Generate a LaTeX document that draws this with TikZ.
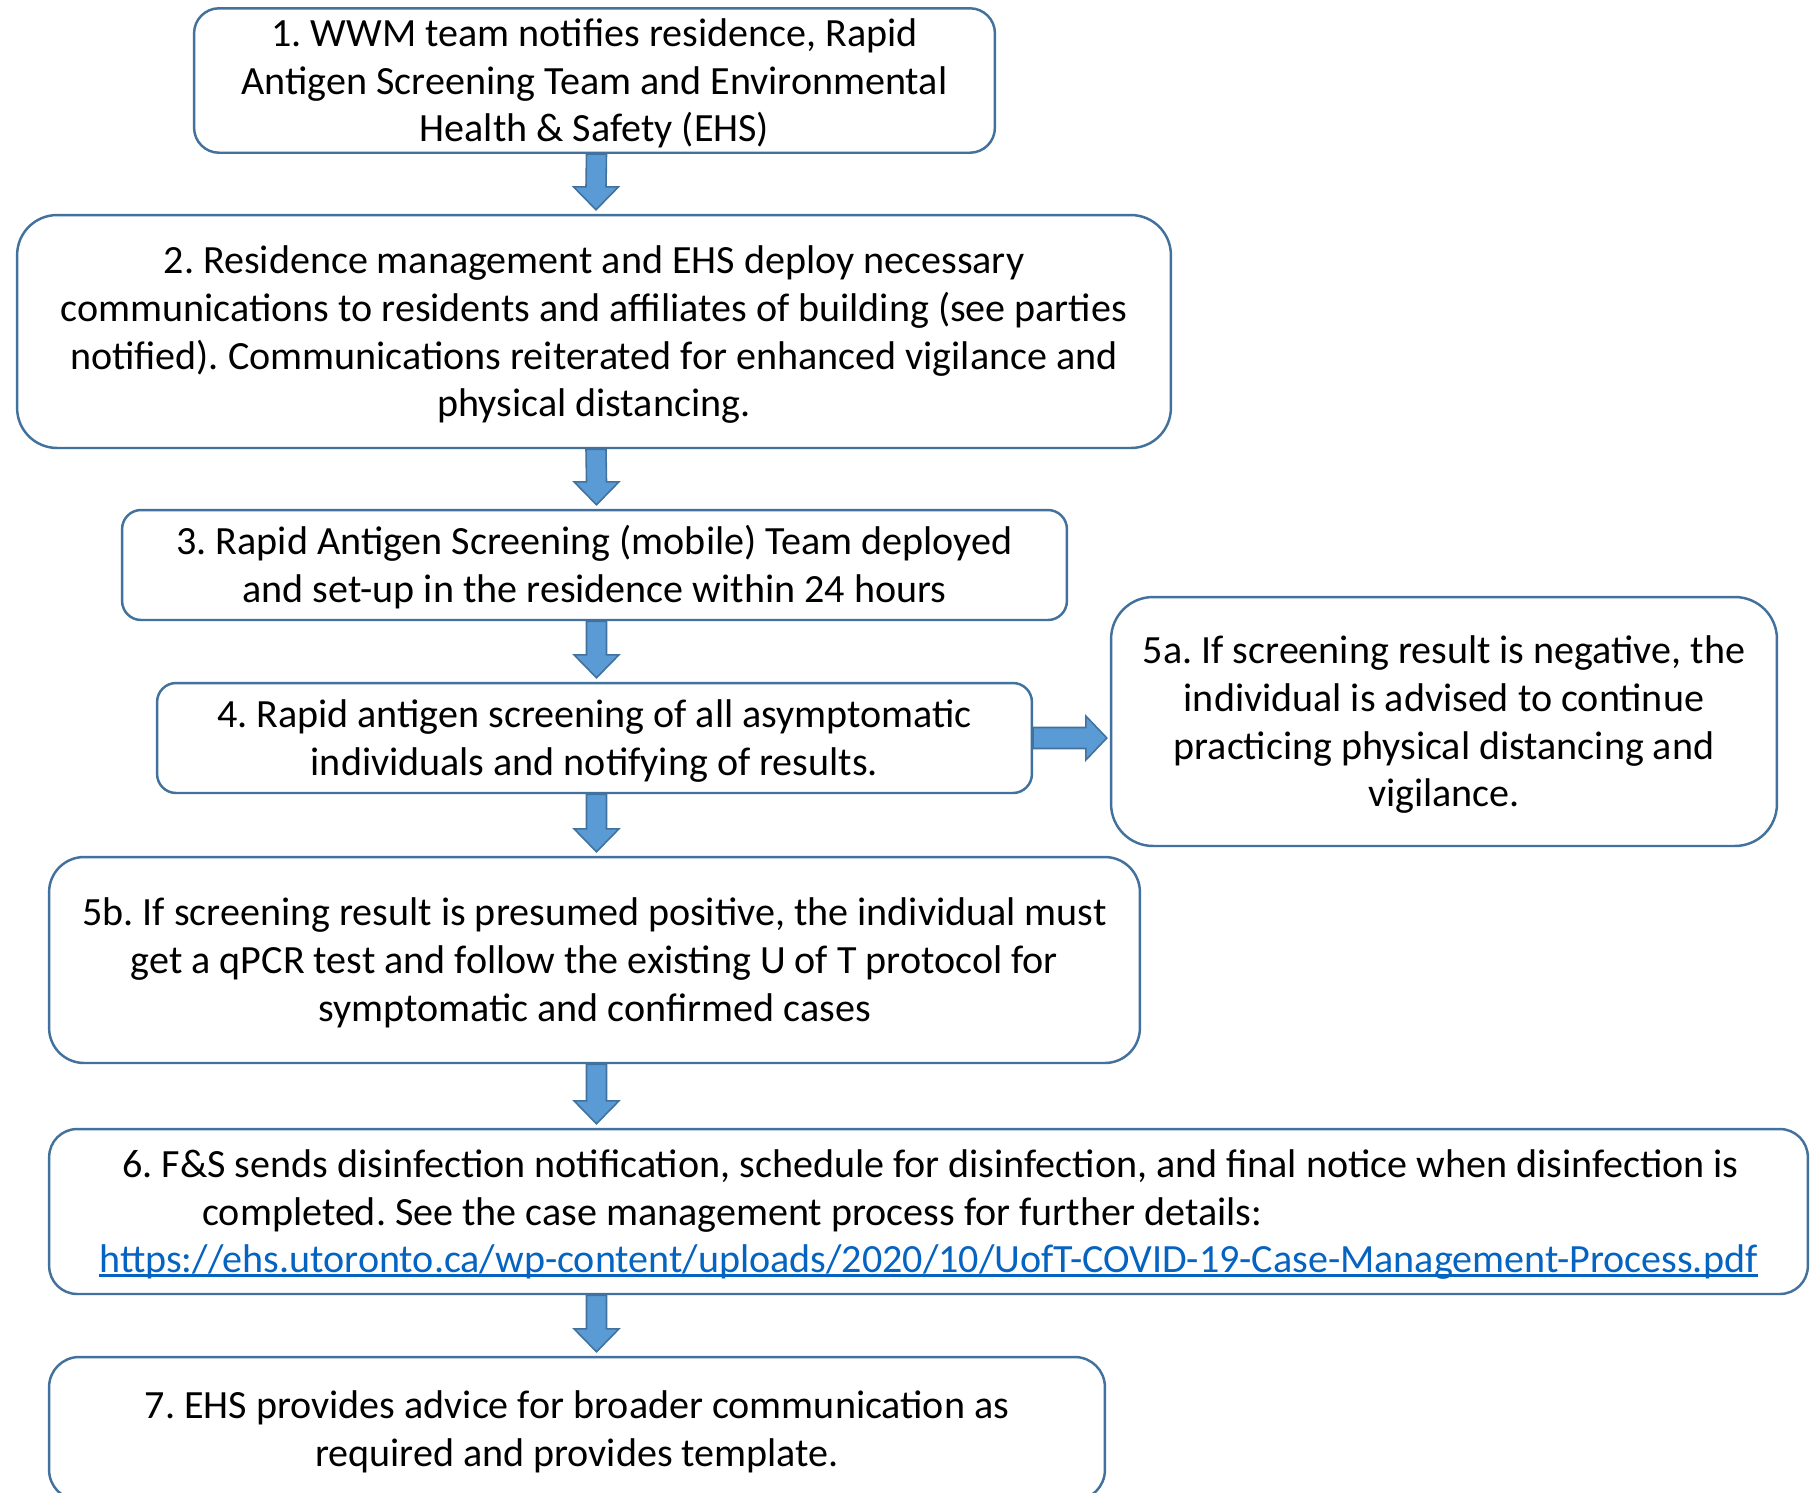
\documentclass[tikz,border=0pt]{standalone}
\usepackage{fontspec}
\setmainfont{Carlito}
\frenchspacing
\usetikzlibrary{calc}
\definecolor{boxline}{HTML}{41719C}
\definecolor{arrowfill}{HTML}{5B9BD5}
\definecolor{linkblue}{HTML}{0563C1}
\newcommand\topstrut{\rule{0pt}{0.95em}}
\newcommand\botstrut{\rule[-0.27em]{0pt}{0pt}}
\tikzset{
  stepbox/.style={draw=boxline, line width=1.4pt, fill=white, inner sep=0pt, align=center,
    execute at end node=\botstrut},
  blockarrow/.style={draw=boxline, fill=arrowfill, line width=0.9pt, line join=miter}
}
% block arrows, sizes in pixels
\newcommand\downblock[2]{%
  \draw[blockarrow] ($(#1)+(-8,0)$) -- ($(#2)+(-8,-27)$) -- ++(-12.5,0) -- ($(#2)+(2,-4)$)
    -- ++(22.5,-23) -- ++(-12.5,0) -- ($(#1)+(12,0)$) -- cycle;}
\newcommand\rightblock[2]{%
  \draw[blockarrow] ($(#1)+(0,-10.5)$) -- ($(#2)+(-24,-10.5)$) -- ++(0,-11.5) -- ($(#2)+(-3,0)$)
    -- ++(-21,22) -- ++(0,-11.5) -- ($(#1)+(0,10.5)$) -- cycle;}
\newcommand\linktext[1]{\setbox0\hbox{#1}\rlap{\rule[-0.09em]{\wd0}{0.06em}}\box0}
\begin{document}
\begin{tikzpicture}[x=0.02cm, y=-0.02cm, font=\fontsize{22.8}{27.2}\selectfont]
  \useasboundingbox (0,0) rectangle (1815,1492);
  \node[stepbox, minimum width=16.02cm, minimum height=2.86cm, rounded corners=0.5cm] (b1) at (594.5,80.5)
    {\topstrut1. WWM team notifies residence, Rapid\\ Antigen Screening Team and Environmental\\ Health \& Safety (EHS)};
  \node[stepbox, minimum width=23.08cm, minimum height=4.66cm, rounded corners=0.8cm] (b2) at (594,331.5)
    {\topstrut2. Residence management and EHS deploy necessary\\ communications to residents and affiliates of building (see parties\\ notified). Communications reiterated for enhanced vigilance and\\ physical distancing.};
  \node[stepbox, minimum width=18.9cm, minimum height=2.2cm, rounded corners=0.38cm] (b3) at (594.5,565)
    {\topstrut3. Rapid Antigen Screening (mobile) Team deployed\\ and set-up in the residence within 24 hours};
  \node[stepbox, minimum width=17.5cm, minimum height=2.2cm, rounded corners=0.38cm] (b4) at (594.5,738)
    {\topstrut4. Rapid antigen screening of all asymptomatic\\ individuals and notifying of results.};
  \node[stepbox, minimum width=13.32cm, minimum height=4.98cm, rounded corners=0.84cm] (b5a) at (1444,721.5)
    {\topstrut5a. If screening result is negative, the\\ individual is advised to continue\\ practicing physical distancing and\\ vigilance.};
  \node[stepbox, minimum width=21.82cm, minimum height=4.12cm, rounded corners=0.7cm] (b5b) at (594.5,960)
    {\topstrut5b. If screening result is presumed positive, the individual must\\ get a qPCR test and follow the existing U of T protocol for\\ symptomatic and confirmed cases};
  \node[stepbox, align=left, minimum width=35.18cm, minimum height=3.3cm, rounded corners=0.56cm] (b6) at (928.5,1211.5)
    {\topstrut\hspace{0.46cm}6. F\&S sends disinfection notification, schedule for disinfection, and final notice when disinfection is\\
     \hspace{2.06cm}completed. See the case management process for further details:\\
     \textcolor{linkblue}{\linktext{https://ehs.utoronto.ca/wp-content/uploads/2020/10/UofT-COVID-19-Case-Management-Process.pdf}}};
  \node[stepbox, minimum width=21.12cm, minimum height=2.86cm, rounded corners=0.6cm] (b7) at (577,1428.5)
    {\topstrut7. EHS provides advice for broader communication as\\ required and provides template.};
  \coordinate (s6) at (b6.south -| b1.south);
  \coordinate (n7) at (b7.north -| b1.south);
  \downblock{b1.south}{b2.north}
  \downblock{b2.south}{b3.north}
  \downblock{b3.south}{b4.north}
  \downblock{b4.south}{b5b.north}
  \downblock{b5b.south}{b6.north -| b1.south}
  \downblock{s6}{n7}
  \rightblock{b4.east}{b5a.west |- b4.east}
\end{tikzpicture}
\end{document}
